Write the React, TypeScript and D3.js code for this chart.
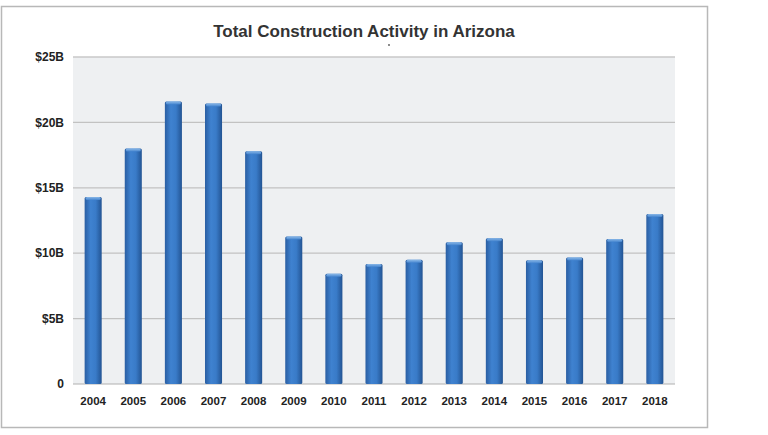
import React, { useEffect, useRef } from 'react';
import * as d3 from 'd3';

const years = ['2004', '2005', '2006', '2007', '2008', '2009', '2010', '2011', '2012', '2013', '2014', '2015', '2016', '2017', '2018'];
const values = [14.3, 18.0, 21.6, 21.45, 17.8, 11.27, 8.42, 9.18, 9.49, 10.84, 11.15, 9.47, 9.67, 11.09, 13.0];
const yTicks = [0, 5, 10, 15, 20, 25];

const App: React.FC = () => {
  const svgRef = useRef<SVGSVGElement>(null);

  useEffect(() => {
    if (!svgRef.current) return;
    const svg = d3.select(svgRef.current);
    svg.selectAll('*').remove();

    const width = 768;
    const height = 435;
    const plot = { left: 73, right: 675, top: 57, bottom: 384 };

    svg.attr('width', width).attr('height', height);

    const defs = svg.append('defs');
    const grad = defs.append('linearGradient')
      .attr('id', 'barGrad')
      .attr('x1', '0%').attr('x2', '100%')
      .attr('y1', '0%').attr('y2', '0%');
    grad.append('stop').attr('offset', '0%').attr('stop-color', '#2a5ea2');
    grad.append('stop').attr('offset', '35%').attr('stop-color', '#3f82d0');
    grad.append('stop').attr('offset', '65%').attr('stop-color', '#397bc8');
    grad.append('stop').attr('offset', '100%').attr('stop-color', '#235493');

    const capGrad = defs.append('linearGradient')
      .attr('id', 'capGrad')
      .attr('x1', '0%').attr('x2', '0%')
      .attr('y1', '0%').attr('y2', '100%');
    capGrad.append('stop').attr('offset', '0%').attr('stop-color', '#8ab8e8');
    capGrad.append('stop').attr('offset', '100%').attr('stop-color', '#4585cf');

    // outer frame
    svg.append('rect')
      .attr('x', 1.5).attr('y', 6.5)
      .attr('width', 706).attr('height', 421)
      .attr('fill', '#ffffff')
      .attr('stroke', '#b8b8b8')
      .attr('stroke-width', 1.5);

    // title
    svg.append('text')
      .attr('x', 364)
      .attr('y', 37)
      .attr('text-anchor', 'middle')
      .style('font-family', '"Liberation Sans", Arial, sans-serif')
      .style('font-size', '17px')
      .style('font-weight', 'bold')
      .style('fill', '#333333')
      .text('Total Construction Activity in Arizona');

    svg.append('circle')
      .attr('cx', 389).attr('cy', 45).attr('r', 0.9)
      .attr('fill', '#555');

    const x = d3.scaleBand<string>()
      .domain(years)
      .range([plot.left, plot.right])
      .paddingInner(0.575)
      .paddingOuter(0.29);

    const y = d3.scaleLinear()
      .domain([0, 25])
      .range([plot.bottom, plot.top]);

    // plot background
    svg.append('rect')
      .attr('x', plot.left).attr('y', plot.top)
      .attr('width', plot.right - plot.left)
      .attr('height', plot.bottom - plot.top)
      .attr('fill', '#eef0f2');

    svg.append('line')
      .attr('x1', plot.left).attr('x2', plot.right)
      .attr('y1', plot.top).attr('y2', plot.top)
      .attr('stroke', '#c8c8c8').attr('stroke-width', 1.5);

    // gridlines
    svg.append('g')
      .selectAll('line')
      .data(yTicks.filter(t => t > 0 && t < 25))
      .enter()
      .append('line')
      .attr('x1', plot.left).attr('x2', plot.right)
      .attr('y1', d => y(d)).attr('y2', d => y(d))
      .attr('stroke', '#c2c2c2')
      .attr('stroke-width', 1.2);

    svg.append('line')
      .attr('x1', plot.left).attr('x2', plot.right)
      .attr('y1', plot.bottom).attr('y2', plot.bottom)
      .attr('stroke', '#b0b0b0').attr('stroke-width', 1);

    // y labels
    svg.append('g')
      .selectAll('text')
      .data(yTicks)
      .enter()
      .append('text')
      .attr('x', 64)
      .attr('y', d => y(d))
      .attr('dy', '0.35em')
      .attr('text-anchor', 'end')
      .style('font-family', '"Liberation Sans", Arial, sans-serif')
      .style('font-size', '12px')
      .style('font-weight', 'bold')
      .style('fill', '#222222')
      .text(d => (d === 0 ? '0' : `$${d}B`));

    // bars
    const bars = svg.append('g')
      .selectAll('g')
      .data(years.map((yr, i) => ({ yr, v: values[i] })))
      .enter()
      .append('g');

    bars.append('rect')
      .attr('x', d => x(d.yr) || 0)
      .attr('y', d => y(d.v))
      .attr('width', x.bandwidth())
      .attr('height', d => plot.bottom - y(d.v))
      .attr('rx', 1.5)
      .attr('fill', 'url(#barGrad)');

    bars.append('rect')
      .attr('x', d => (x(d.yr) || 0) + 1)
      .attr('y', d => y(d.v))
      .attr('width', x.bandwidth() - 2)
      .attr('height', 3)
      .attr('rx', 1.5)
      .attr('fill', 'url(#capGrad)');

    // x labels
    svg.append('g')
      .selectAll('text')
      .data(years)
      .enter()
      .append('text')
      .attr('x', d => (x(d) || 0) + x.bandwidth() / 2)
      .attr('y', 401)
      .attr('dy', '0.35em')
      .attr('text-anchor', 'middle')
      .style('font-family', '"Liberation Sans", Arial, sans-serif')
      .style('font-size', '11.5px')
      .style('font-weight', 'bold')
      .style('fill', '#222222')
      .text(d => d);
  }, []);

  return (
    <div style={{ position: 'absolute', left: 0, top: 0, width: 768, height: 435, background: '#fff' }}>
      <svg ref={svgRef}></svg>
    </div>
  );
};

export default App;
